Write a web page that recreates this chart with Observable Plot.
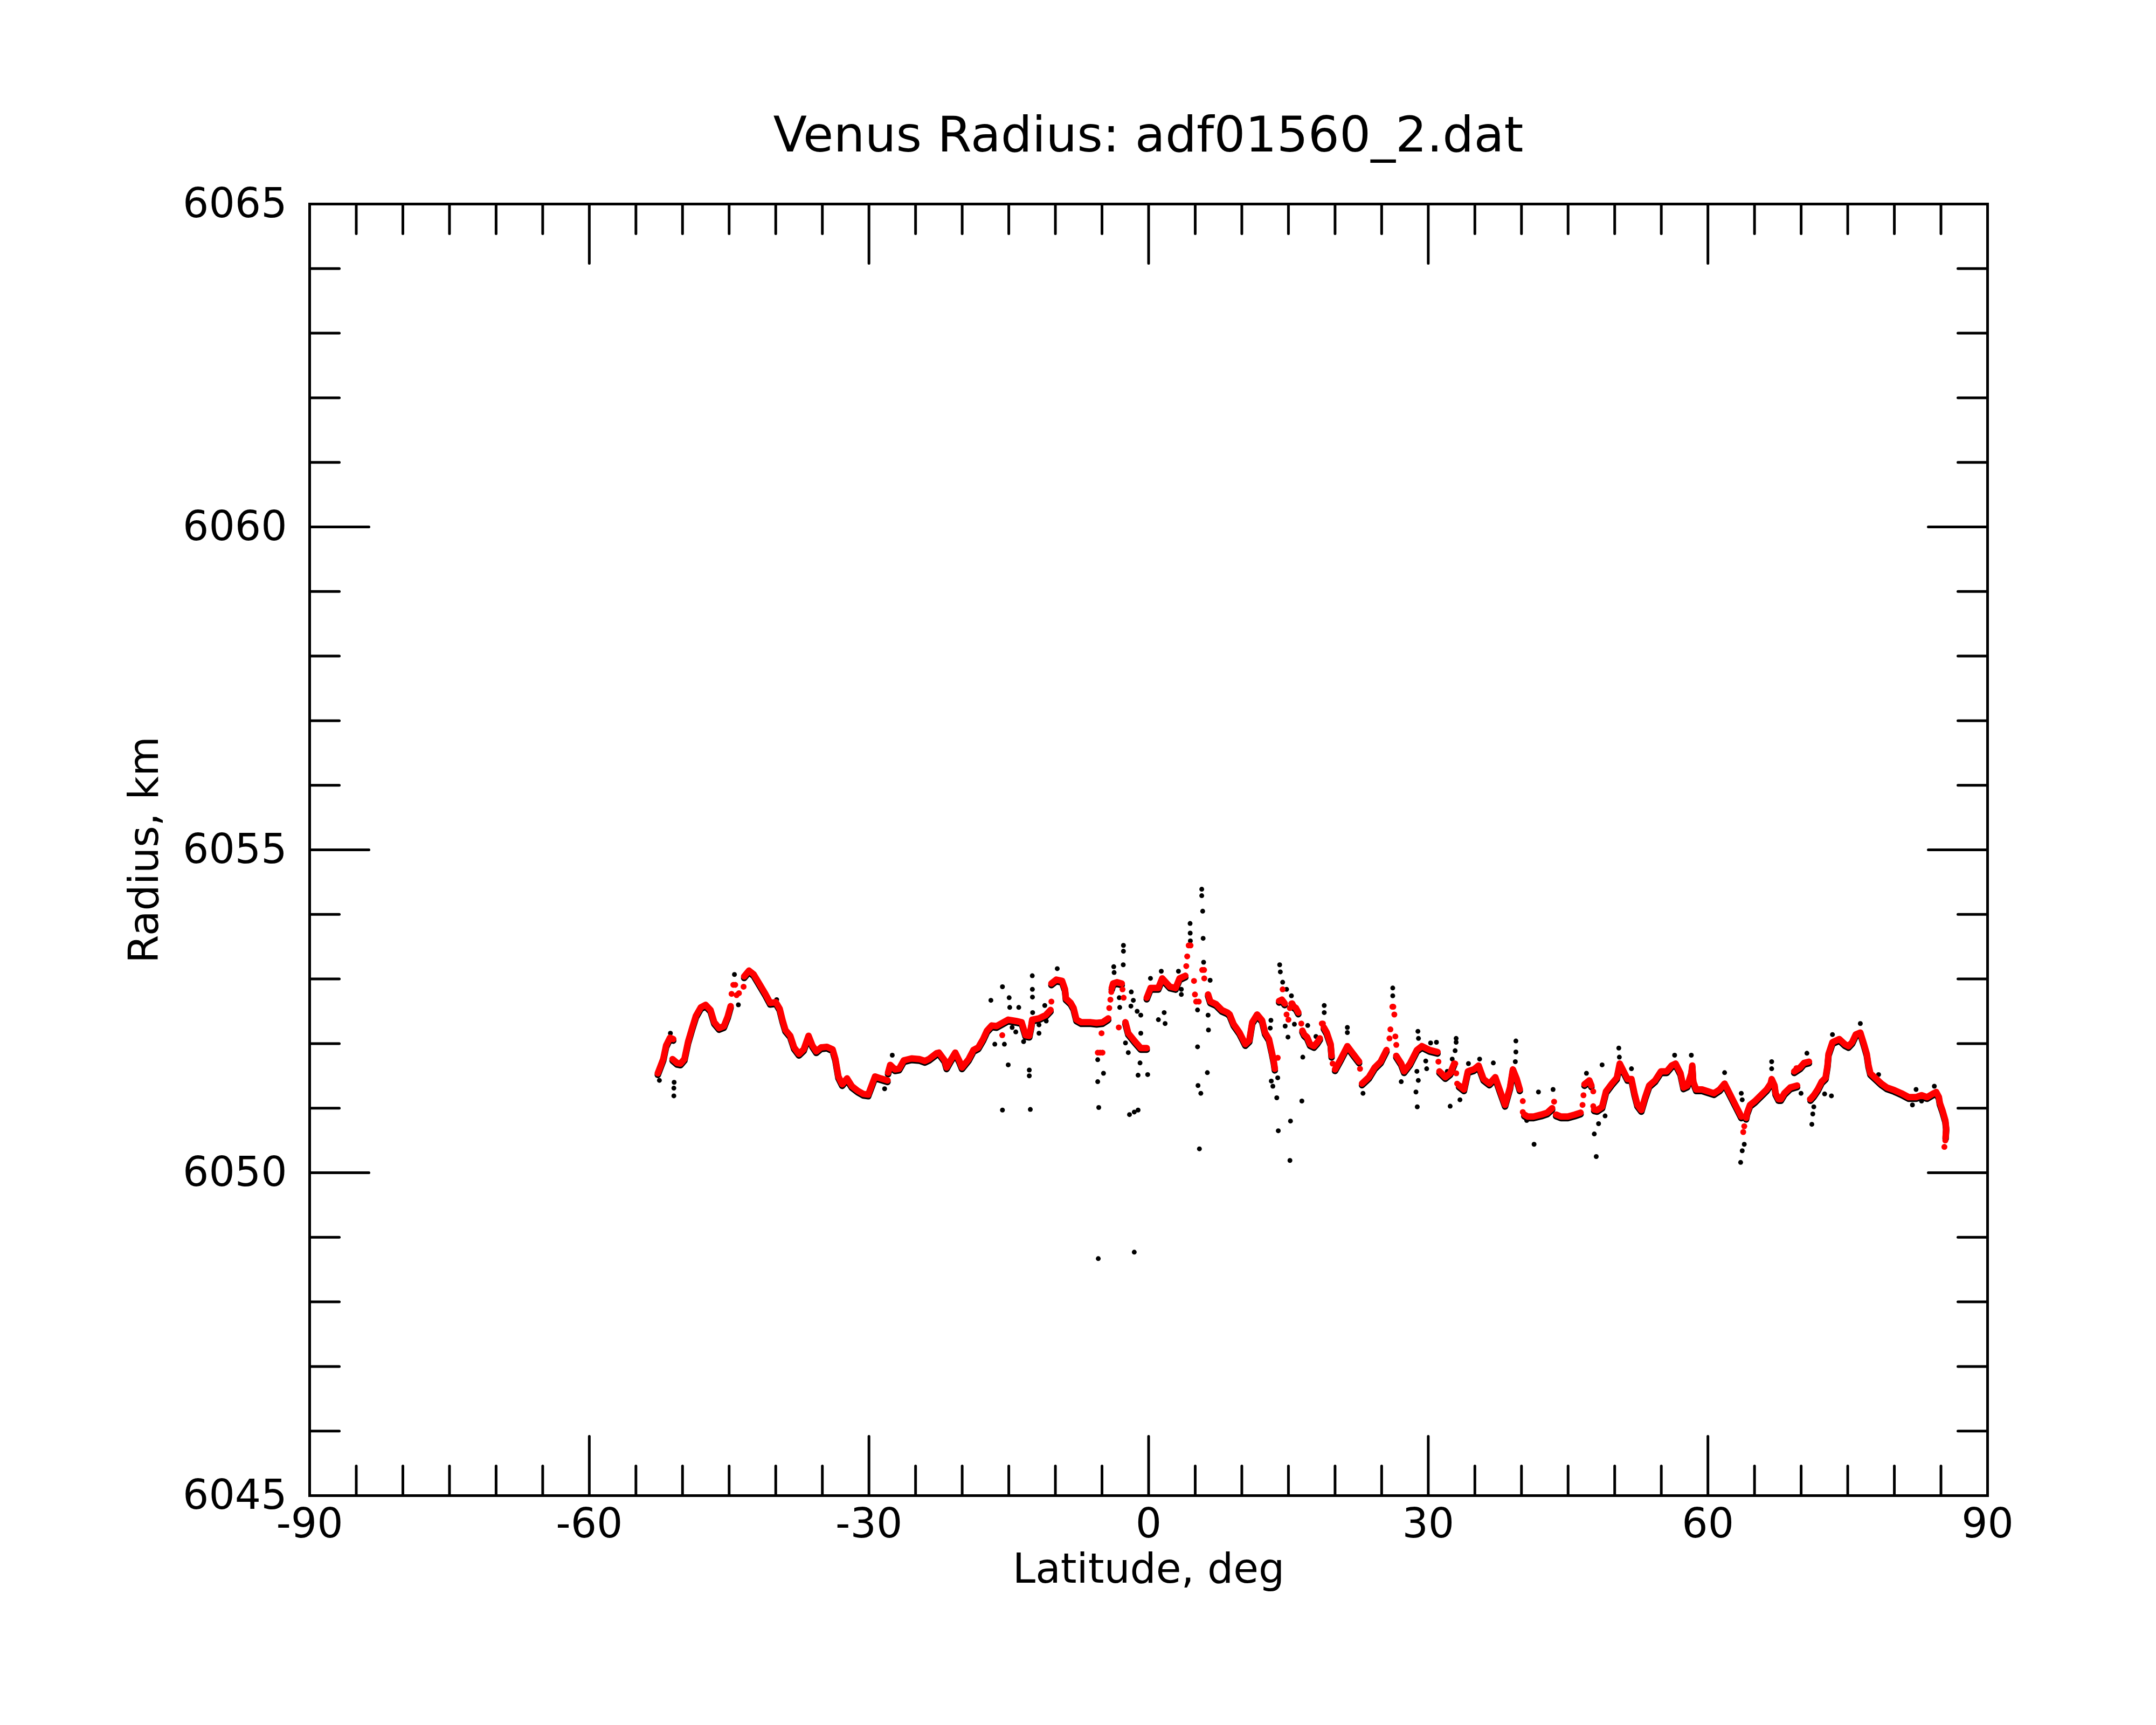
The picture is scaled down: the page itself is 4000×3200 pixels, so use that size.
<!DOCTYPE html>
<html>
<head>
<meta charset="utf-8">
<script src="https://cdn.jsdelivr.net/npm/d3@7"></script>
<script src="https://cdn.jsdelivr.net/npm/@observablehq/plot@0.6"></script>
<style>
  html, body { margin: 0; padding: 0; background: white; }
  #title {
    box-sizing: border-box; width: 4000px; height: 330px;
    padding: 204px 313px 0 574px; text-align: center;
    font-family: "DejaVu Sans", sans-serif; font-size: 91.5px; line-height: 92px; color: black;
  }
</style>
</head>
<body>
<div id="title">Venus Radius: adf01560_2.dat</div>
<div id="chart"></div>
<script>
// ---- Smoothed (red) track: latitude (deg) / radius (km); null = gap ----
const trackLat = [
 -52.65,-52.07,-51.76,-51.35,-51.0,null,
 -51.07,-50.6,-50.22,-49.8,-49.4,-48.97,-48.56,-48.04,-47.52,-47.0,-46.6,-46.08,-45.56,-45.15,-44.84,null,
 -43.39,-42.87,-42.36,-41.74,-41.12,-40.6,-39.99,-39.58,-39.27,-38.96,-38.44,-38.03,-37.51,-37.0,-36.48,-36.07,-35.65,-35.14,-34.51,-33.9,-33.6,-33.28,-32.87,-32.35,-31.83,-31.21,-30.6,-30.08,-29.66,-29.35,-28.73,-28.01,null,
 -27.95,-27.72,-27.2,-26.77,-26.26,-25.43,-24.6,-23.99,-23.57,-22.75,-22.5,-21.88,-21.67,-21.25,-20.74,-20.33,-20.02,-19.3,-18.79,-18.27,-17.75,-17.34,-16.83,-16.31,-15.06,-14.25,-13.62,-13.2,-12.8,-12.59,-12.49,-11.76,-11.04,-10.52,null,
 -10.43,-9.9,-9.28,-8.97,-8.87,-8.36,-8.05,-7.74,-7.22,-6.19,-5.57,-4.95,-4.33,null,
 -3.95,-3.81,-3.4,-2.88,null,
 -2.49,-2.18,-1.45,-0.84,-0.2,null,
 -0.2,0.21,1.04,1.46,2.29,2.9,3.32,3.94,null,
 6.38,6.62,7.23,7.85,8.47,8.70,9.12,9.75,10.38,10.80,11.12,11.64,12.17,12.49,12.91,13.22,13.43,13.54,null,
 14.0,14.3,14.6,null,
 15.4,15.53,15.8,16.06,null,
 16.5,16.69,17.0,17.32,17.74,18.1,18.37,null,
 18.8,19.11,19.53,19.63,null,
 20.0,20.68,21.32,21.95,22.58,null,
 22.89,23.63,24.26,24.89,25.52,null,
 26.57,27.1,27.41,28.04,28.78,29.31,30.15,30.99,null,
 31.2,31.83,32.35,32.78,null,
 33.3,33.83,34.25,34.88,35.4,35.93,36.56,37.19,37.72,38.24,38.77,39.08,39.5,39.82,null,
 40.3,40.66,41.29,42.13,42.76,43.29,null,
 43.71,44.23,44.97,45.71,46.34,null,
 46.76,47.28,47.5,null,
 47.8,48.12,48.65,48.86,49.07,49.7,50.23,50.54,50.96,51.38,51.8,52.12,52.44,52.86,53.27,53.7,54.33,54.96,55.59,56.11,56.53,57.06,57.38,57.8,58.22,58.32,58.43,58.74,59.37,60.0,60.64,61.27,61.79,62.11,62.63,63.16,63.58,null,
 64.1,64.21,64.52,65.05,65.68,66.31,66.73,66.84,67.15,67.26,67.57,67.83,68.2,68.84,69.57,null,
 69.26,69.89,70.31,70.84,null,
 71.0,71.36,71.78,72.2,72.62,72.83,72.94,73.36,74.1,74.69,75.08,75.47,75.86,76.35,76.74,77.04,77.23,77.43,78.02,78.61,79.2,79.98,80.76,81.55,82.33,82.92,83.51,84.09,84.49,84.78,84.88,85.17,85.47,85.56,85.5
];
const trackRad = [
 6051.54,6051.76,6051.97,6052.09,6052.07,null,
 6051.76,6051.70,6051.69,6051.76,6052.03,6052.24,6052.43,6052.56,6052.60,6052.52,6052.33,6052.24,6052.27,6052.42,6052.58,null,
 6053.04,6053.13,6053.07,6052.92,6052.77,6052.63,6052.64,6052.54,6052.36,6052.21,6052.12,6051.94,6051.84,6051.91,6052.12,6051.97,6051.88,6051.94,6051.95,6051.91,6051.76,6051.49,6051.37,6051.46,6051.34,6051.27,6051.22,6051.21,6051.37,6051.49,6051.46,6051.43,null,
 6051.55,6051.67,6051.60,6051.61,6051.74,6051.77,6051.76,6051.73,6051.76,6051.85,6051.86,6051.74,6051.63,6051.74,6051.86,6051.74,6051.63,6051.76,6051.90,6051.94,6052.07,6052.20,6052.28,6052.27,6052.37,6052.35,6052.33,6052.13,6052.12,6052.27,6052.37,6052.39,6052.44,6052.52,null,
 6052.93,6052.99,6052.97,6052.84,6052.70,6052.63,6052.55,6052.37,6052.33,6052.33,6052.32,6052.33,6052.39,null,
 6052.86,6052.93,6052.95,6052.93,null,
 6052.33,6052.16,6052.03,6051.93,6051.93,null,
 6052.71,6052.86,6052.86,6053.01,6052.88,6052.86,6053.01,6053.05,null,
 6052.76,6052.65,6052.61,6052.52,6052.48,6052.45,6052.30,6052.17,6051.99,6052.05,6052.33,6052.45,6052.36,6052.17,6052.07,6051.87,6051.72,6051.61,null,
 6052.66,6052.68,6052.62,null,
 6052.62,6052.58,6052.55,6052.48,null,
 6052.20,6052.14,6052.10,6051.99,6051.96,6052.02,6052.08,null,
 6052.25,6052.17,6051.99,6051.81,null,
 6051.60,6051.78,6051.96,6051.84,6051.72,null,
 6051.38,6051.48,6051.63,6051.72,6051.90,null,
 6051.81,6051.69,6051.57,6051.69,6051.90,6051.96,6051.90,6051.87,null,
 6051.57,6051.48,6051.54,6051.69,null,
 6051.35,6051.29,6051.57,6051.60,6051.66,6051.45,6051.38,6051.48,6051.26,6051.05,6051.32,6051.60,6051.45,6051.29,null,
 6050.90,6050.87,6050.87,6050.90,6050.93,6051.00,null,
 6050.90,6050.87,6050.87,6050.90,6050.93,null,
 6051.37,6051.43,6051.35,null,
 6050.98,6050.97,6051.02,6051.14,6051.26,6051.38,6051.47,6051.69,6051.57,6051.45,6051.45,6051.23,6051.05,6050.97,6051.17,6051.35,6051.43,6051.57,6051.57,6051.66,6051.69,6051.54,6051.32,6051.35,6051.54,6051.66,6051.41,6051.29,6051.29,6051.26,6051.23,6051.29,6051.38,6051.29,6051.14,6050.99,6050.87,null,
 6050.85,6050.93,6051.05,6051.11,6051.20,6051.29,6051.38,6051.45,6051.35,6051.23,6051.14,6051.14,6051.23,6051.32,6051.35,null,
 6051.57,6051.63,6051.70,6051.72,null,
 6051.14,6051.20,6051.29,6051.41,6051.47,6051.66,6051.84,6052.02,6052.07,6051.99,6051.96,6052.02,6052.14,6052.17,6051.99,6051.84,6051.66,6051.54,6051.46,6051.38,6051.32,6051.28,6051.23,6051.17,6051.17,6051.20,6051.17,6051.22,6051.25,6051.17,6051.08,6050.96,6050.81,6050.69,6050.55
];

// ---- Isolated smoothed (red) points ----
const dotLat = [-44.74,-44.55,-44.35,-44.2,-43.95,-43.45,-15.7,-10.43,-4.22,-4.1,-4.0,-5.45,-5.2,-4.95,-5.05,-3.2,-2.8,-2.68,
 4.04,4.14,4.3,4.5,4.87,4.97,5.1,5.38,5.75,5.95,5.97,13.85,14.38,14.8,15.0,15.15,15.3,16.38,18.58,18.7,19.74,
 22.68,25.84,25.94,26.15,26.25,26.36,26.47,26.57,31.09,32.9,33.0,33.1,40.14,40.14,43.5,46.55,46.65,47.7,47.7,
 63.9,63.79,69.5,70.94,85.47,85.37];
const dotRad = [6052.77,6052.91,6052.91,6052.75,6052.78,6052.88,6052.13,6052.65,6052.55,6052.68,6052.80,6051.86,6051.86,6051.86,6052.16,6052.25,6052.84,6052.71,
 6053.20,6053.35,6053.52,6053.52,6052.97,6052.76,6052.65,6052.65,6053.14,6053.14,6053.01,6051.78,6052.84,6052.45,6052.37,6052.55,6052.62,6052.31,6052.31,6052.31,6051.69,
 6051.61,6052.08,6052.22,6052.57,6052.57,6052.45,6052.11,6051.98,6051.72,6051.69,6051.54,6051.38,6051.11,6050.94,6051.10,6051.05,6051.20,6051.26,6051.03,
 6050.72,6050.63,6051.62,6051.14,6050.50,6050.40];

// ---- Raw (black) points off the smoothed track ----
const rawLat = [-52.48,-51.3,-50.93,-50.93,-50.9,-44.43,-44.01,-39.9,-28.32,-27.5,
 -16.92,-16.5,-15.68,-15.68,-15.47,-15.06,-14.96,-14.9,-14.64,-14.25,-13.93,-13.41,-12.8,-12.8,-12.69,-12.48,-12.47,-12.46,-12.44,-11.76,-11.76,-11.14,-10.98,-9.8,
 -5.46,-5.46,-5.4,-5.35,-4.84,-3.74,-3.7,-3.15,-3.1,-2.72,-2.7,-2.7,-2.48,-2.18,-2.05,-1.9,-1.86,-1.64,-1.54,-1.54,-1.23,-1.13,-1.13,-0.92,-0.84,-0.84,-0.1,
 0.2,1.05,1.36,1.67,1.77,3.2,3.51,3.51,4.45,4.46,4.48,5.25,5.25,5.3,5.45,5.6,5.7,5.7,5.8,5.85,5.9,6.3,6.38,6.42,6.6,
 13.05,13.12,13.16,13.33,13.75,13.85,13.91,14.06,14.13,14.38,14.65,14.8,14.95,15.16,15.22,15.32,15.64,16.44,16.54,17.07,17.95,18.84,18.84,21.32,21.32,23.0,
 26.19,26.19,27.1,28.68,28.78,28.82,28.89,28.93,28.95,29.73,29.83,30.25,30.88,32.04,32.35,32.57,32.88,32.99,32.99,33.4,34.31,35.51,36.98,39.34,39.4,39.4,39.82,40.56,
 41.35,41.82,43.39,46.97,47.81,48.02,48.27,48.65,48.97,50.44,50.5,51.8,56.43,58.22,61.79,63.51,63.58,63.68,63.68,63.9,66.84,66.84,69.99,70.62,71.15,71.25,71.36,72.52,73.25,73.36,
 76.35,78.31,81.94,82.33,82.92,84.29];
const rawRad = [6051.43,6052.16,6051.19,6051.31,6051.40,6053.07,6052.60,6052.68,6051.30,6051.82,
 6052.67,6051.99,6052.88,6050.97,6051.99,6051.67,6052.71,6052.56,6052.25,6052.18,6052.56,6052.03,6051.59,6051.50,6050.98,6053.05,6052.84,6052.72,6052.48,6052.29,6052.16,6052.59,6052.35,6053.16,
 6051.75,6051.41,6048.67,6051.01,6051.54,6053.19,6053.10,6052.71,6052.56,6053.22,6053.52,6053.43,6052.01,6051.86,6050.90,6052.58,6052.80,6052.67,6050.94,6048.77,6052.50,6051.51,6050.97,6051.70,6052.44,6052.16,6051.52,
 6053.01,6052.37,6053.12,6052.48,6052.31,6053.12,6052.84,6052.76,6053.86,6053.71,6053.59,6052.52,6051.95,6051.35,6050.37,6051.23,6054.39,6054.29,6054.05,6053.63,6053.26,6051.55,6052.44,6052.21,6052.98,
 6052.24,6052.36,6051.42,6051.34,6051.16,6051.47,6050.65,6053.22,6053.11,6052.95,6052.27,6052.84,6052.10,6050.19,6050.80,6052.74,6052.30,6051.11,6051.79,6052.28,6052.11,6052.59,6052.48,6052.25,6052.17,6051.23,
 6052.86,6052.74,6051.41,6051.25,6051.57,6051.02,6052.19,6051.43,6052.08,6051.73,6051.61,6052.01,6052.02,6051.57,6051.03,6051.76,6051.89,6052.08,6052.02,6051.13,6051.69,6051.76,6051.70,6051.72,6052.04,6051.87,6051.31,6050.81,
 6050.44,6051.25,6051.29,6051.54,6050.60,6050.25,6050.76,6051.67,6050.88,6051.93,6051.79,6051.61,6051.82,6051.82,6051.55,6050.16,6051.23,6051.13,6050.34,6050.44,6051.72,6051.61,6051.23,6051.85,6050.75,6050.91,6051.02,6051.22,6051.19,6052.14,
 6052.31,6051.52,6051.05,6051.29,6051.11,6051.34];

// ---- Axis ticks ----
const xTickLabels = [-90, -60, -30, 0, 30, 60, 90];
const xMajor = [-60, -30, 0, 30, 60];
const xMinor = d3.range(-85, 90, 5).filter(d => d % 30 !== 0);
const yTickLabels = [6045, 6050, 6055, 6060, 6065];
const yMajor = [6050, 6055, 6060];
const yMinor = d3.range(6046, 6065, 1).filter(d => d % 5 !== 0);

const track = trackLat.map((x, i) => ({x, y: trackRad[i]}));
const dots = dotLat.map((x, i) => ({x, y: dotRad[i]}));
const raw = rawLat.map((x, i) => ({x, y: rawRad[i]}));

const tickShape = {draw(context, l) { context.moveTo(0, 0); context.lineTo(0, -l); }};
const tickOpts = (anchor, rotate, len) => ({frameAnchor: anchor, rotate, length: len, anchor: "start",
  shape: tickShape, stroke: "black", strokeWidth: 5});

const plot = Plot.plot({
  width: 4000,
  height: 2870,
  marginLeft: 574,
  marginRight: 313,
  marginTop: 48,
  marginBottom: 426,
  style: {fontFamily: "DejaVu Sans", background: "white", color: "black"},
  x: {domain: [-90, 90]},
  y: {domain: [6045, 6065]},
  marks: [
    // raw points (black)
    Plot.line(track, {x: "x", y: "y", stroke: "black", strokeWidth: 12, strokeLinecap: "round", strokeLinejoin: "round", dy: 3}),
    Plot.dot(raw, {x: "x", y: "y", r: 4.5, fill: "black"}),
    // smoothed points (red)
    Plot.line(track, {x: "x", y: "y", stroke: "#ff0000", strokeWidth: 12, strokeLinecap: "round", strokeLinejoin: "round"}),
    Plot.dot(dots, {x: "x", y: "y", r: 5.5, fill: "#ff0000"}),
    // frame and inward ticks
    Plot.frame({stroke: "black", strokeWidth: 5}),
    Plot.vector(xMajor, {x: d => d, ...tickOpts("bottom", 0, 110)}),
    Plot.vector(xMinor, {x: d => d, ...tickOpts("bottom", 0, 55)}),
    Plot.vector(xMajor, {x: d => d, ...tickOpts("top", 180, 110)}),
    Plot.vector(xMinor, {x: d => d, ...tickOpts("top", 180, 55)}),
    Plot.vector(yMajor, {y: d => d, ...tickOpts("left", 90, 110)}),
    Plot.vector(yMinor, {y: d => d, ...tickOpts("left", 90, 55)}),
    Plot.vector(yMajor, {y: d => d, ...tickOpts("right", -90, 110)}),
    Plot.vector(yMinor, {y: d => d, ...tickOpts("right", -90, 55)}),
    // tick labels
    Plot.axisX(xTickLabels, {anchor: "bottom", tickSize: 0, tickPadding: 24, fontSize: 76, tickFormat: d => String(d), label: null}),
    Plot.axisY(yTickLabels, {anchor: "left", tickSize: 0, tickPadding: 42, fontSize: 76, tickFormat: d => String(d), label: null}),
    // axis titles
    Plot.text(["Latitude, deg"], {text: d => d, frameAnchor: "bottom", dy: 161, textAnchor: "middle", lineAnchor: "bottom", fontSize: 76, fill: "black"}),
    Plot.text(["Radius, km"], {text: d => d, frameAnchor: "left", dx: -282, rotate: -90, textAnchor: "middle", lineAnchor: "bottom", fontSize: 76, fill: "black"})
  ]
});
document.getElementById("chart").appendChild(plot);
</script>
</body>
</html>
